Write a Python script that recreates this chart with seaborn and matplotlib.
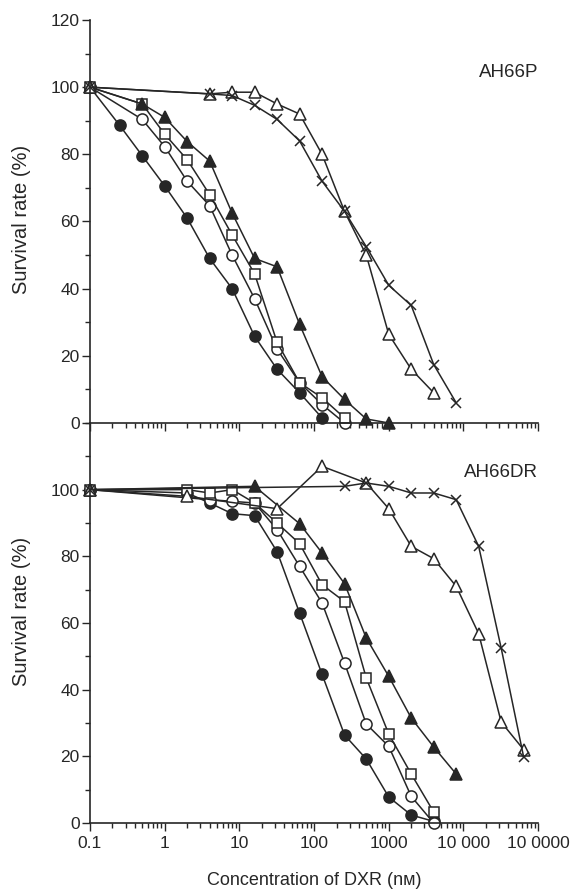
import numpy as np
import pandas as pd
import seaborn as sns
import matplotlib.pyplot as plt
from matplotlib.ticker import LogLocator, FixedLocator, MultipleLocator, NullFormatter

# AH66P (top panel) - concentration (nM) and survival (%)
p_fc_x = [0.1, 0.25, 0.5, 1, 2, 4, 8, 16, 32, 64, 128]
p_fc_y = [100, 88.6, 79.6, 70.6, 61, 49, 40, 25.8, 16, 9, 1.5]
p_oc_x = [0.1, 0.5, 1, 2, 4, 8, 16, 32, 64, 128, 256]
p_oc_y = [100, 90.4, 82.3, 72, 64.7, 50, 37, 22, 12, 5.5, 0]
p_os_x = [0.1, 0.5, 1, 2, 4, 8, 16, 32, 64, 128, 256]
p_os_y = [100, 95, 86, 78.4, 68, 56, 44.4, 24, 12, 7.5, 1.5]
p_ft_x = [0.1, 0.5, 1, 2, 4, 8, 16, 32, 64, 128, 256, 500, 1000]
p_ft_y = [100, 95, 91, 83.8, 78, 62.5, 49, 46.5, 29.4, 13.8, 7, 1.2, 0]
p_ot_x = [0.1, 4, 8, 16, 32, 64, 128, 256, 500, 1000, 2000, 4000]
p_ot_y = [100, 98, 98.5, 98.5, 95, 92, 80, 63, 50, 26.4, 16, 9]
p_cr_x = [0.1, 4, 8, 16, 32, 64, 128, 256, 500, 1000, 2000, 4000, 8000]
p_cr_y = [100, 98, 97.5, 94.6, 90.4, 84, 72, 63, 52.5, 41, 35, 17.4, 6]

# AH66DR (bottom panel)
d_fc_x = [0.1, 2, 4, 8, 16, 32, 64, 128, 256, 500, 1000, 2000, 4000]
d_fc_y = [100, 99, 96, 92.8, 92.2, 81.4, 63, 44.6, 26.4, 19.2, 7.8, 2.4, 0.5]
d_oc_x = [0.1, 4, 8, 16, 32, 64, 128, 256, 500, 1000, 2000, 4000]
d_oc_y = [100, 97, 96.5, 96, 88, 77, 66, 48, 29.7, 23, 8, 0]
d_os_x = [0.1, 2, 4, 8, 16, 32, 64, 128, 256, 500, 1000, 2000, 4000]
d_os_y = [100, 100, 99, 100, 96, 90, 83.8, 71.5, 66.4, 43.5, 26.7, 14.7, 3.3]
d_ft_x = [0.1, 16, 64, 128, 256, 500, 1000, 2000, 4000, 8000]
d_ft_y = [100, 101, 89.8, 81, 71.8, 55.5, 44, 31.5, 22.8, 14.7]
d_ot_x = [0.1, 2, 32, 128, 500, 1000, 2000, 4000, 8000, 16000, 32000, 64000]
d_ot_y = [100, 98, 94.3, 107, 102, 94.3, 83, 79.3, 71, 56.8, 30.3, 22]
d_cr_x = [0.1, 256, 500, 1000, 2000, 4000, 8000, 16000, 32000, 64000]
d_cr_y = [100, 101, 102, 101, 99, 99, 97, 83, 52.5, 19.8]

x_tick_vals = [0.1, 1, 10, 100, 1000, 10000, 100000]
x_tick_labels = ['0.1', '1', '10', '100', '1000', '10 000', '10 0000']

ink = '#262626'
styles = {
    'fc': dict(marker='o', markerfacecolor=ink, markersize=8),
    'oc': dict(marker='o', markerfacecolor='white', markersize=8),
    'os': dict(marker='s', markerfacecolor='white', markersize=7.8),
    'ft': dict(marker='^', markerfacecolor=ink, markersize=8.5),
    'ot': dict(marker='^', markerfacecolor='white', markersize=9),
    'cr': dict(marker='x', markerfacecolor=ink, markersize=6.5),
}

sns.set_style('ticks')
plt.rcParams['font.family'] = ['Liberation Sans', 'DejaVu Sans']
plt.rcParams['font.size'] = 12.5

fig = plt.figure(figsize=(5.76, 8.89), dpi=100)
ax_top = fig.add_axes([0.15625, 0.5242, 0.778, 0.4533])
ax_bot = fig.add_axes([0.15625, 0.0742, 0.778, 0.45])

top_series = [('fc', p_fc_x, p_fc_y), ('oc', p_oc_x, p_oc_y), ('os', p_os_x, p_os_y),
              ('ft', p_ft_x, p_ft_y), ('ot', p_ot_x, p_ot_y), ('cr', p_cr_x, p_cr_y)]
bot_series = [('fc', d_fc_x, d_fc_y), ('oc', d_oc_x, d_oc_y), ('os', d_os_x, d_os_y),
              ('ft', d_ft_x, d_ft_y), ('ot', d_ot_x, d_ot_y), ('cr', d_cr_x, d_cr_y)]

for ax, series in [(ax_top, top_series), (ax_bot, bot_series)]:
    for key, xs, ys in series:
        df = pd.DataFrame({'conc': xs, 'surv': ys})
        sns.lineplot(data=df, x='conc', y='surv', ax=ax, color=ink, linewidth=1.1,
                     markeredgecolor=ink, markeredgewidth=1.1, clip_on=False,
                     sort=False, **styles[key])
    ax.set_xscale('log')
    ax.set_xlim(0.1, 100000)
    ax.set_ylim(0, 120)
    ax.xaxis.set_major_locator(FixedLocator(x_tick_vals))
    ax.xaxis.set_minor_locator(LogLocator(base=10, subs=np.arange(2, 10), numticks=20))
    ax.xaxis.set_minor_formatter(NullFormatter())
    ax.yaxis.set_minor_locator(MultipleLocator(10))
    ax.tick_params(which='major', length=5.5, width=1, color=ink, direction='out', pad=2)
    ax.tick_params(which='minor', length=3.5, width=1, color=ink, direction='out')
    for s in ['top', 'right']:
        ax.spines[s].set_visible(False)
    for s in ['left', 'bottom']:
        ax.spines[s].set_color(ink)
        ax.spines[s].set_linewidth(1.2)
    ax.set_ylabel('Survival rate (%)', fontsize=14.5)
    ax.set_xlabel('')
    ax.patch.set_alpha(0)

ax_top.set_yticks([0, 20, 40, 60, 80, 100, 120])
ax_top.set_xticklabels([])
ax_top.yaxis.set_label_coords(-0.132, 0.504)
ax_top.text(100000, 104.5, 'AH66P', ha='right', va='center', fontsize=13.5)

ax_bot.set_yticks([0, 20, 40, 60, 80, 100])
ax_bot.set_xticklabels(x_tick_labels)
ax_bot.tick_params(axis='x', pad=4)
ax_bot.yaxis.set_label_coords(-0.132, 0.53)
ax_bot.set_xlabel('Concentration of DXR (n\u1d0d)', fontsize=13, labelpad=15)
ax_bot.text(100000, 105, 'AH66DR', ha='right', va='center', fontsize=13.5)

fig.savefig('out.png', dpi=100)
